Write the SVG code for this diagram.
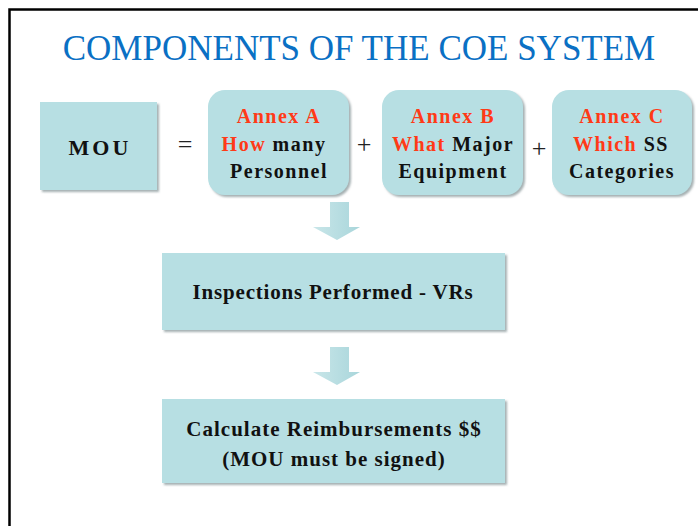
<svg xmlns="http://www.w3.org/2000/svg" width="698" height="526" viewBox="0 0 698 526">
<defs>
<filter id="sh" x="-10%" y="-10%" width="125%" height="130%">
<feDropShadow dx="2" dy="2" stdDeviation="1" flood-color="#7f8f92" flood-opacity="0.7"/>
</filter>
<linearGradient id="ag" x1="0" y1="0" x2="1" y2="0">
<stop offset="0" stop-color="#c9e6e9"/>
<stop offset="1" stop-color="#a9d6db"/>
</linearGradient>
</defs>
<style>
.t{font-family:Liberation Serif,Noto Serif,FreeSerif,Tinos,DejaVu Serif,serif;font-weight:bold;font-size:20px;fill:#111;text-anchor:middle;letter-spacing:1.5px}
.title{font-family:Liberation Serif,Noto Serif,FreeSerif,Tinos,DejaVu Serif,serif;font-size:35px;fill:#0a70c4;text-anchor:middle}
.op{font-family:Liberation Serif,Noto Serif,FreeSerif,Tinos,DejaVu Serif,serif;font-size:26px;fill:#222;text-anchor:middle}
.box{fill:#b7dfe3;filter:url(#sh)}
.r{fill:#ff3a17}
.arrow{fill:url(#ag)}
</style>
<rect x="0" y="0" width="698" height="526" fill="#fff"/>
<rect x="9.5" y="9.5" width="720" height="560" fill="none" stroke="#000" stroke-width="2.5"/>
<text class="title" x="359" y="60">COMPONENTS OF THE COE SYSTEM</text>

<g id="mou">
<rect class="box" x="40" y="102" width="117" height="88"/>
<text class="t" x="100" y="155" style="font-size:22px;letter-spacing:3px">MOU</text>
</g>
<text class="op" x="185" y="153">=</text>
<g id="annexA">
<rect class="box" x="208" y="90" width="141" height="105" rx="17"/>
<text class="t" x="279" y="123"><tspan class="r">Annex A</tspan></text>
<text class="t" x="274" y="151"><tspan class="r">How</tspan> many</text>
<text class="t" x="279" y="178">Personnel</text>
</g>
<text class="op" x="364" y="153">+</text>
<g id="annexB">
<rect class="box" x="382" y="90" width="141" height="105" rx="17"/>
<text class="t" x="453" y="123"><tspan class="r">Annex B</tspan></text>
<text class="t" x="453" y="151"><tspan class="r">What</tspan> Major</text>
<text class="t" x="453" y="178">Equipment</text>
</g>
<text class="op" x="539" y="157">+</text>
<g id="annexC">
<rect class="box" x="552" y="90" width="140" height="105" rx="17"/>
<text class="t" x="622" y="123"><tspan class="r">Annex C</tspan></text>
<text class="t" x="621" y="151"><tspan class="r">Which</tspan> SS</text>
<text class="t" x="622" y="178">Categories</text>
</g>

<g id="connectors">
<polygon class="arrow" points="330,202 349,202 349,227 360,227 337,240 313,227 330,227"/>
<polygon class="arrow" points="330,347 349,347 349,372 360,372 337,385 313,372 330,372"/>
</g>

<g id="inspections">
<rect class="box" x="162" y="253" width="343" height="77"/>
<text class="t" x="333" y="299" style="font-size:21px;letter-spacing:0.8px">Inspections Performed  - VRs</text>
</g>
<g id="calculate">
<rect class="box" x="162" y="399" width="343" height="84"/>
<text class="t" x="334" y="436" style="font-size:21px;letter-spacing:1px">Calculate Reimbursements $$</text>
<text class="t" x="334" y="466" style="font-size:21px;letter-spacing:1px">(MOU must be signed)</text>
</g>
</svg>
